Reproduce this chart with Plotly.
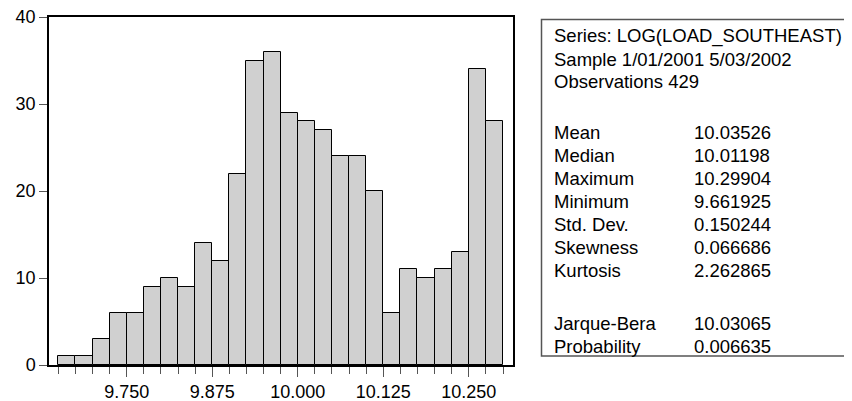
import plotly.graph_objects as go

# Histogram bins (lower edges) and counts
bin_lower = [9.650, 9.675, 9.700, 9.725, 9.750, 9.775, 9.800, 9.825, 9.850, 9.875,
             9.900, 9.925, 9.950, 9.975, 10.000, 10.025, 10.050, 10.075, 10.100,
             10.125, 10.150, 10.175, 10.200, 10.225, 10.250, 10.275]
counts = [1, 1, 3, 6, 6, 9, 10, 9, 14, 12,
          22, 35, 36, 29, 28, 27, 24, 24, 20,
          6, 11, 10, 11, 13, 34, 28]
bin_width = 0.025

x_tick_vals = [9.750, 9.875, 10.000, 10.125, 10.250]
x_tick_text = ["9.750", "9.875", "10.000", "10.125", "10.250"]
y_tick_vals = [0, 10, 20, 30, 40]

stat_header = ["Series: LOG(LOAD_SOUTHEAST)", "Sample 1/01/2001 5/03/2002", "Observations 429"]
stat_names = ["Mean", "Median", "Maximum", "Minimum", "Std. Dev.", "Skewness", "Kurtosis"]
stat_values = ["10.03526", "10.01198", "10.29904", "9.661925", "0.150244", "0.066686", "2.262865"]
test_names = ["Jarque-Bera", "Probability"]
test_values = ["10.03065", "0.006635"]

FONT = "Liberation Sans, Arial, sans-serif"
OFF = 8  # default page body margin
W, H = 852 - OFF, 401 - OFF
# plot area in page pixels: left 49, right 513, top 17, bottom 365
ML = 49 - OFF
MT = 17 - OFF
MR = W - (513 - OFF)
MB = H - (365 - OFF)
PW = W - ML - MR
PH = H - MT - MB

fig = go.Figure()
fig.add_trace(go.Bar(
    x=bin_lower, y=counts, width=[bin_width] * len(counts), offset=0,
    marker=dict(color="#d0d0d0", line=dict(color="#000000", width=1)),
    showlegend=False,
))

fig.update_layout(
    width=W, height=H, autosize=False,
    margin=dict(l=ML, r=MR, t=MT, b=MB, pad=0, autoexpand=False),
    paper_bgcolor="white", plot_bgcolor="white",
    font=dict(family=FONT, size=18, color="black"),
    bargap=0,
    xaxis=dict(
        range=[9.6364, 10.3146], tickvals=x_tick_vals, ticktext=x_tick_text,
        ticks="outside", ticklen=10, tickwidth=1, tickcolor="#555555",
        minor=dict(tick0=9.65, dtick=bin_width, ticks="outside", ticklen=7,
                   tickwidth=1, tickcolor="#555555", showgrid=False),
        showline=True, linecolor="#000000", linewidth=1.5, mirror=True,
        showgrid=False, zeroline=False, fixedrange=True, automargin=False,
        ticklabeloverflow="allow",
        tickfont=dict(family=FONT, size=18, color="black"),
    ),
    yaxis=dict(
        range=[0, 40], tickvals=y_tick_vals,
        ticks="outside", ticklen=8, tickwidth=1, tickcolor="#555555",
        showline=True, linecolor="#000000", linewidth=1.5, mirror=True,
        showgrid=False, zeroline=False, fixedrange=True, automargin=False,
        ticklabeloverflow="allow",
        tickfont=dict(family=FONT, size=18, color="black"),
    ),
)

def px_x(px):
    # page pixel -> paper x
    return (px - OFF - ML) / PW

def px_y(py):
    # page pixel -> paper y
    return (H - MB - (py - OFF)) / PH

# Statistics box
fig.add_shape(type="rect", xref="paper", yref="paper",
              x0=px_x(541.5), x1=px_x(880), y0=px_y(356), y1=px_y(19.5),
              line=dict(color="#555555", width=1.5), fillcolor="rgba(0,0,0,0)")

TS = 18.5
lx = px_x(551.5)
vx = px_x(691.5)
header_y = [36.5, 59, 81]
stat_y = [132, 155, 178, 201, 224, 247, 270]
test_y = [323, 346.5]

for txt, yy in zip(stat_header, header_y):
    fig.add_annotation(x=lx, y=px_y(yy), xref="paper", yref="paper", text=txt,
                       showarrow=False, xanchor="left", yanchor="middle",
                       font=dict(family=FONT, size=TS, color="black"))
for name, val, yy in zip(stat_names + test_names, stat_values + test_values, stat_y + test_y):
    fig.add_annotation(x=lx, y=px_y(yy), xref="paper", yref="paper", text=name,
                       showarrow=False, xanchor="left", yanchor="middle",
                       font=dict(family=FONT, size=TS, color="black"))
    fig.add_annotation(x=vx, y=px_y(yy), xref="paper", yref="paper", text=val,
                       showarrow=False, xanchor="left", yanchor="middle",
                       font=dict(family=FONT, size=TS, color="black"))

fig.write_html("out.html")
